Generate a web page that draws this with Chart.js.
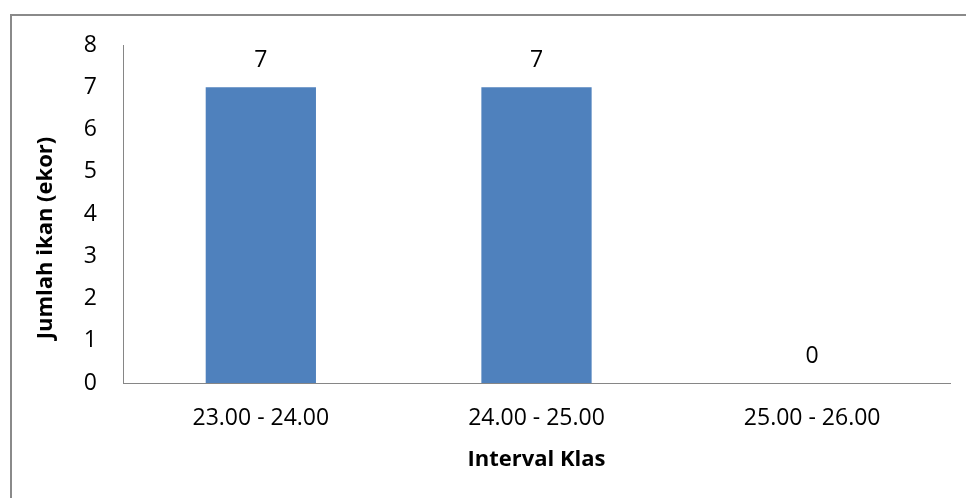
<!DOCTYPE html>
<html>
<head>
<meta charset="utf-8">
<script src="https://cdn.jsdelivr.net/npm/chart.js@4/dist/chart.umd.min.js"></script>
<style>
  html, body { margin: 0; padding: 0; background: #fff; overflow: hidden; }
  #wrap { width: 966px; height: 498px; position: relative; }
</style>
</head>
<body>
<div id="wrap"><canvas id="c" width="966" height="498"></canvas></div>
<script>
// Fish count per length class interval
const categories = ['23.00 - 24.00', '24.00 - 25.00', '25.00 - 26.00'];
const counts = [7, 7, 0];
const yTicks = [0, 1, 2, 3, 4, 5, 6, 7, 8];
const xTitle = 'Interval Klas';
const yTitle = 'Jumlah ikan (ekor)';

const FONT = "'Open Sans', 'Lato', sans-serif";

// Outer frame of the chart box (top and left edges)
const framePlugin = {
  id: 'frame',
  beforeDraw(chart) {
    const ctx = chart.ctx;
    ctx.save();
    ctx.strokeStyle = '#8a8a8a';
    ctx.lineWidth = 2;
    ctx.beginPath();
    ctx.moveTo(11, chart.height + 2);
    ctx.lineTo(11, 15);
    ctx.lineTo(chart.width + 2, 15);
    ctx.stroke();
    ctx.restore();
  }
};

// Vertical axis title, rotated, placed left of the tick labels
const yTitlePlugin = {
  id: 'yTitle',
  afterDraw(chart) {
    const ctx = chart.ctx;
    const area = chart.chartArea;
    ctx.save();
    ctx.translate(46, (area.top + area.bottom) / 2 + 24);
    ctx.rotate(-Math.PI / 2);
    ctx.font = 'bold 22px ' + FONT;
    ctx.fillStyle = '#000';
    ctx.textAlign = 'center';
    ctx.textBaseline = 'middle';
    ctx.fillText(yTitle, 0, 0);
    ctx.restore();
  }
};

// Value labels above each bar
const valueLabels = {
  id: 'valueLabels',
  afterDatasetsDraw(chart) {
    const ctx = chart.ctx;
    const ds = chart.data.datasets[0];
    const meta = chart.getDatasetMeta(0);
    ctx.save();
    ctx.font = '23px ' + FONT;
    ctx.fillStyle = '#000';
    ctx.textAlign = 'center';
    ctx.textBaseline = 'middle';
    meta.data.forEach((bar, i) => {
      ctx.fillText(String(ds.data[i]), bar.x, bar.y - 27);
    });
    ctx.restore();
  }
};

new Chart(document.getElementById('c'), {
  type: 'bar',
  data: {
    labels: categories,
    datasets: [{
      data: counts,
      backgroundColor: '#4F81BD',
      borderWidth: 0,
      categoryPercentage: 1,
      barPercentage: 0.4
    }]
  },
  options: {
    responsive: false,
    animation: false,
    devicePixelRatio: 1,
    layout: { padding: { top: 45, right: 16, left: 0, bottom: 0 } },
    plugins: { legend: { display: false }, tooltip: { enabled: false } },
    scales: {
      x: {
        grid: { display: false, drawTicks: false },
        border: { display: true, color: '#868686', width: 1 },
        ticks: { color: '#000', font: { family: FONT, size: 23 }, padding: 22, maxRotation: 0, autoSkip: false },
        title: { display: true, text: xTitle, color: '#000',
                 font: { family: FONT, size: 22, weight: 'bold' }, padding: { bottom: 25, top: 0 } },
        afterFit(scale) { scale.height = 115; }
      },
      y: {
        min: 0, max: 8,
        afterBuildTicks(scale) { scale.ticks = yTicks.map(v => ({ value: v })); },
        grid: { display: false, drawTicks: false },
        border: { display: true, color: '#868686', width: 1 },
        ticks: { color: '#000', font: { family: FONT, size: 23 }, padding: 26 },
        title: { display: false },
        afterFit(scale) { scale.width = 123; }
      }
    }
  },
  plugins: [framePlugin, yTitlePlugin, valueLabels]
});
</script>
</body>
</html>
